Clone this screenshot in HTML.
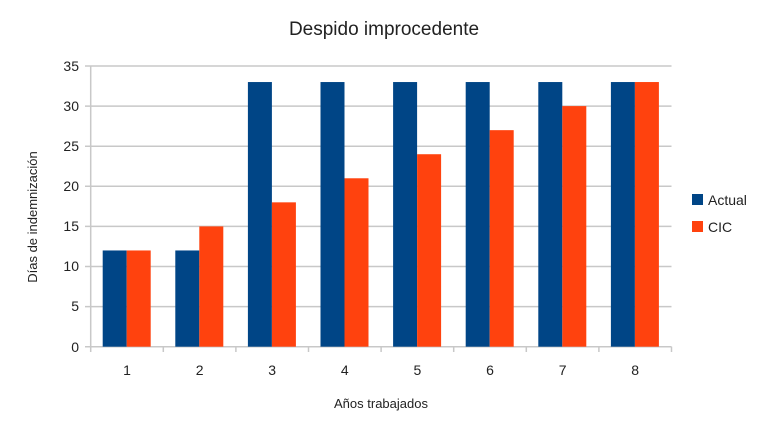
<!DOCTYPE html>
<html><head><meta charset="utf-8"><style>body{margin:0;background:#fff}svg{display:block}</style></head><body>
<svg width="768" height="432" xmlns="http://www.w3.org/2000/svg" font-family="Liberation Sans, sans-serif">
<rect width="768" height="432" fill="#fff"/>
<text x="384" y="35" font-size="19" text-anchor="middle" fill="#222">Despido improcedente</text>
<g stroke="#c8c8c8" stroke-width="1.5">
<line x1="85" x2="671.5" y1="66" y2="66"/><line x1="85" x2="671.5" y1="106.1" y2="106.1"/>
<line x1="85" x2="671.5" y1="146.2" y2="146.2"/><line x1="85" x2="671.5" y1="186.3" y2="186.3"/>
<line x1="85" x2="671.5" y1="226.4" y2="226.4"/><line x1="85" x2="671.5" y1="266.5" y2="266.5"/>
<line x1="85" x2="671.5" y1="306.6" y2="306.6"/>
<line x1="90.7" x2="90.7" y1="66" y2="352"/>
<line x1="85" x2="671.5" y1="346.7" y2="346.7"/>
<line x1="163.3" x2="163.3" y1="346.7" y2="352"/><line x1="235.9" x2="235.9" y1="346.7" y2="352"/>
<line x1="308.5" x2="308.5" y1="346.7" y2="352"/><line x1="381.1" x2="381.1" y1="346.7" y2="352"/>
<line x1="453.7" x2="453.7" y1="346.7" y2="352"/><line x1="526.3" x2="526.3" y1="346.7" y2="352"/>
<line x1="598.9" x2="598.9" y1="346.7" y2="352"/><line x1="671.5" x2="671.5" y1="346.7" y2="352"/>
</g>
<g font-size="14" fill="#222" text-anchor="end">
<text x="79" y="71">35</text><text x="79" y="111">30</text><text x="79" y="151">25</text><text x="79" y="191">20</text><text x="79" y="231">15</text><text x="79" y="271">10</text><text x="79" y="311">5</text><text x="79" y="352">0</text>
</g>
<g font-size="14" fill="#222" text-anchor="middle">
<text x="127" y="375">1</text><text x="199.6" y="375">2</text><text x="272.2" y="375">3</text><text x="344.8" y="375">4</text><text x="417.4" y="375">5</text><text x="490" y="375">6</text><text x="562.6" y="375">7</text><text x="635.2" y="375">8</text>
</g>
<text x="381" y="408" font-size="13" text-anchor="middle" fill="#222">Años trabajados</text>
<text transform="translate(37,217) rotate(-90)" font-size="13" text-anchor="middle" fill="#222">Días de indemnización</text>
<g fill="#004586">
<rect x="102.7" y="250.46" width="24" height="96.24"/>
<rect x="175.3" y="250.46" width="24" height="96.24"/>
<rect x="247.9" y="82.04" width="24" height="264.66"/>
<rect x="320.5" y="82.04" width="24" height="264.66"/>
<rect x="393.1" y="82.04" width="24" height="264.66"/>
<rect x="465.7" y="82.04" width="24" height="264.66"/>
<rect x="538.3" y="82.04" width="24" height="264.66"/>
<rect x="610.9" y="82.04" width="24" height="264.66"/>
</g>
<g fill="#ff420e">
<rect x="126.7" y="250.46" width="24" height="96.24"/>
<rect x="199.3" y="226.4" width="24" height="120.3"/>
<rect x="271.9" y="202.34" width="24" height="144.36"/>
<rect x="344.5" y="178.28" width="24" height="168.42"/>
<rect x="417.1" y="154.22" width="24" height="192.48"/>
<rect x="489.7" y="130.16" width="24" height="216.54"/>
<rect x="562.3" y="106.1" width="24" height="240.6"/>
<rect x="634.9" y="82.04" width="24" height="264.66"/>
</g>
<rect x="692" y="194" width="11" height="11" fill="#004586"/>
<text x="708" y="205" font-size="14" fill="#222">Actual</text>
<rect x="692" y="221" width="11" height="11" fill="#ff420e"/>
<text x="708" y="232" font-size="14" fill="#222">CIC</text>
</svg>
</body></html>
